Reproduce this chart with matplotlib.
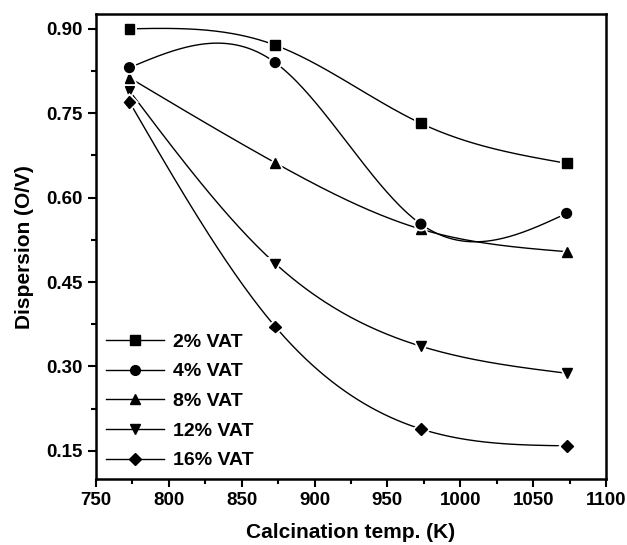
import matplotlib.pyplot as plt
import matplotlib.patheffects as pe
import numpy as np

temps = [773, 873, 973, 1073]
vat_2 = [0.900, 0.871, 0.732, 0.661]
vat_4 = [0.831, 0.840, 0.553, 0.572]
vat_8 = [0.813, 0.662, 0.544, 0.504]
vat_12 = [0.790, 0.483, 0.336, 0.288]
vat_16 = [0.770, 0.371, 0.189, 0.159]
labels = ["2% VAT", "4% VAT", "8% VAT", "12% VAT", "16% VAT"]
markers = ["s", "o", "^", "v", "D"]


def spline(x, y, n=200):
    """natural cubic spline through the points (like Origin's spline line)"""
    x = np.asarray(x, float)
    y = np.asarray(y, float)
    k = len(x)
    h = np.diff(x)
    A = np.zeros((k, k))
    b = np.zeros(k)
    A[0, 0] = A[-1, -1] = 1
    for i in range(1, k - 1):
        A[i, i - 1] = h[i - 1]
        A[i, i] = 2 * (h[i - 1] + h[i])
        A[i, i + 1] = h[i]
        b[i] = 6 * ((y[i + 1] - y[i]) / h[i] - (y[i] - y[i - 1]) / h[i - 1])
    m = np.linalg.solve(A, b)
    xs = np.linspace(x[0], x[-1], n)
    idx = np.clip(np.searchsorted(x, xs) - 1, 0, k - 2)
    x0, x1 = x[idx], x[idx + 1]
    hh = x1 - x0
    t0, t1 = x1 - xs, xs - x0
    ys = (m[idx] * t0**3 + m[idx + 1] * t1**3) / (6 * hh) \
        + (y[idx] / hh - m[idx] * hh / 6) * t0 \
        + (y[idx + 1] / hh - m[idx + 1] * hh / 6) * t1
    return xs, ys


plt.rcParams['font.family'] = ['Liberation Sans', 'DejaVu Sans']
plt.rcParams['font.weight'] = 'bold'

fig = plt.figure(figsize=(6.27, 5.45), dpi=100)
ax = fig.add_axes([0.153, 0.121, 0.8135, 0.853])

series = [vat_2, vat_4, vat_8, vat_12, vat_16]
zs = [3, 5, 4, 3, 3]
for vals, lab, mk, z in zip(series, labels, markers, zs):
    xs, ys = spline(temps, vals)
    ax.plot(xs, ys, color="black", lw=1.0, zorder=2)
    ms = 7 if mk != "D" else 6
    ax.plot(temps, vals, ls="none", marker=mk, ms=ms, color="black", zorder=z,
            path_effects=[pe.withStroke(linewidth=3.5, foreground="white")])
    # legend proxy
    ax.plot([], [], color="black", lw=1.0, marker=mk, ms=ms, label=lab)

ax.set_xlim(750, 1100)
ax.set_ylim(0.10, 0.926)
ax.set_xticks(np.arange(750, 1101, 50))
ax.set_xticks(np.arange(775, 1100, 50), minor=True)
ax.set_yticks([0.15, 0.30, 0.45, 0.60, 0.75, 0.90])
ax.set_yticks([0.225, 0.375, 0.525, 0.675, 0.825], minor=True)
ax.set_yticklabels(["0.15", "0.30", "0.45", "0.60", "0.75", "0.90"])
ax.tick_params(which="major", direction="out", length=6, width=1.5, labelsize=13.5)
ax.tick_params(which="minor", direction="out", length=3.5, width=1.5)
for s in ax.spines.values():
    s.set_linewidth(1.8)

ax.set_xlabel("Calcination temp. (K)", fontsize=15, fontweight="bold", labelpad=10)
ax.set_ylabel("Dispersion (O/V)", fontsize=15, fontweight="bold", labelpad=9)

leg = ax.legend(loc="lower left", bbox_to_anchor=(0.0, 0.0), frameon=False,
                handlelength=3.0, fontsize=14, labelspacing=0.62,
                handletextpad=0.45, borderaxespad=0.4, borderpad=0.1)
for t in leg.get_texts():
    t.set_fontweight("bold")

plt.savefig("out.png", dpi=100)
